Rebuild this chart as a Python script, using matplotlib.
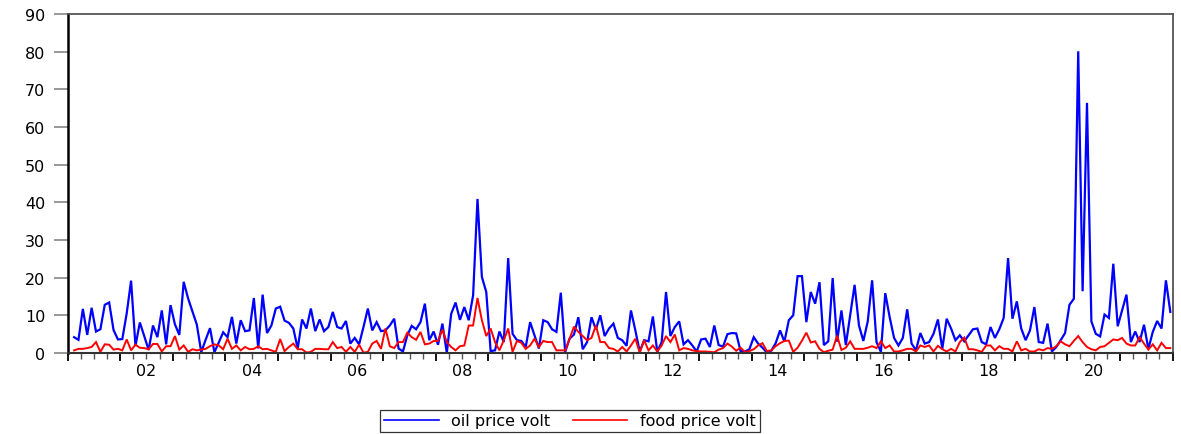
import numpy as np
import matplotlib
matplotlib.use("Agg")
import matplotlib.pyplot as plt
from matplotlib.ticker import FixedLocator, NullFormatter

# Monthly volatility series, 2001M02 .. 2021M12
start_year, start_month = 2001, 2

oil_price_volt = [
    4.2, 3.5, 11.7, 4.8, 12.0, 5.7, 6.3, 12.8, 13.4, 6.1, 3.6, 3.7,
    10.5, 19.2, 1.9, 8.1, 4.5, 0.8, 7.3, 4.2, 11.3, 2.3, 12.7, 7.6,
    4.8, 18.9, 14.5, 11.0, 7.5, 0.2, 3.5, 6.6, 0.2, 2.8, 5.5, 4.2,
    9.6, 2.5, 8.7, 5.8, 6.0, 14.6, 1.2, 15.5, 5.3, 7.3, 11.8, 12.3,
    8.6, 8.0, 6.5, 1.2, 8.9, 6.5, 11.8, 5.8, 8.9, 5.8, 6.9, 10.9,
    6.9, 6.5, 8.5, 2.5, 4.0, 2.3, 6.9, 11.8, 6.0, 8.2, 5.8, 6.0,
    7.3, 9.1, 1.2, 0.4, 4.7, 7.2, 6.3, 8.2, 13.1, 3.4, 5.7, 2.2,
    7.8, 0.0, 10.4, 13.4, 8.8, 12.2, 8.7, 15.3, 40.9, 20.2, 16.2, 0.5,
    0.7, 5.7, 2.9, 25.2, 5.1, 3.4, 3.2, 1.6, 8.2, 4.7, 1.2, 8.7,
    8.2, 6.3, 5.6, 16.0, 0.3, 3.8, 4.9, 9.5, 1.0, 2.9, 9.5, 6.3,
    10.0, 4.5, 6.5, 7.8, 4.0, 3.4, 1.9, 11.3, 6.0, 0.4, 3.4, 3.1,
    9.7, 0.3, 2.9, 16.2, 4.5, 6.9, 8.4, 2.3, 3.4, 2.0, 0.4, 3.6,
    3.8, 1.6, 7.3, 2.1, 1.7, 5.0, 5.3, 5.2, 0.5, 0.4, 1.0, 4.2,
    2.5, 1.4, 0.1, 0.6, 2.6, 6.0, 3.0, 8.7, 10.0, 20.4, 20.4, 8.2,
    16.2, 13.1, 18.8, 2.1, 3.1, 19.9, 3.0, 11.3, 2.1, 10.0, 18.1, 7.3,
    3.2, 8.4, 19.3, 2.9, 0.3, 15.9, 9.5, 4.0, 2.0, 4.0, 11.6, 2.5,
    0.7, 5.3, 2.5, 2.9, 5.1, 8.9, 1.1, 9.1, 6.5, 3.4, 4.7, 3.1,
    4.7, 6.3, 6.5, 2.9, 2.3, 6.9, 4.0, 6.3, 9.3, 25.2, 9.1, 13.7,
    6.5, 3.4, 6.0, 12.2, 2.9, 2.7, 7.8, 0.4, 1.6, 3.4, 5.3, 12.8,
    14.4, 80.1, 16.4, 66.4, 8.4, 5.1, 4.4, 10.2, 9.3, 23.7, 7.1, 11.3,
    15.5, 2.9, 5.7, 2.9, 7.5, 1.1, 5.6, 8.5, 6.5, 19.3, 10.9,
]

food_price_volt = [
    0.7, 1.1, 1.1, 1.3, 1.6, 2.9, 0.3, 2.3, 2.2, 0.9, 1.1, 0.7,
    3.6, 0.7, 2.2, 1.4, 1.3, 1.0, 2.4, 2.4, 0.4, 1.8, 1.8, 4.5,
    0.9, 2.0, 0.3, 1.0, 0.7, 0.9, 1.1, 1.8, 2.3, 2.0, 1.0, 3.8,
    1.1, 2.0, 0.7, 1.6, 1.0, 1.1, 1.8, 1.0, 1.1, 0.7, 0.3, 3.7,
    0.5, 1.6, 2.5, 1.0, 1.0, 0.1, 0.3, 1.1, 1.1, 1.0, 1.0, 2.9,
    1.3, 1.6, 0.3, 1.6, 0.3, 2.2, 0.1, 0.3, 2.5, 3.2, 1.1, 6.5,
    1.8, 1.3, 2.9, 2.9, 5.4, 4.2, 3.5, 5.6, 2.3, 2.5, 3.2, 3.2,
    6.2, 2.9, 1.6, 0.7, 1.8, 2.0, 7.3, 7.3, 14.6, 8.7, 4.5, 6.5,
    2.9, 0.7, 3.4, 6.5, 0.3, 3.2, 2.7, 1.1, 2.0, 3.8, 1.6, 3.2,
    2.9, 2.9, 0.7, 0.7, 0.7, 3.8, 7.0, 5.6, 4.5, 3.4, 4.0, 7.3,
    2.9, 2.9, 1.3, 1.1, 0.4, 1.6, 0.4, 2.0, 3.8, 0.1, 3.4, 0.7,
    2.0, 0.4, 2.0, 4.5, 2.9, 4.9, 0.7, 1.3, 1.1, 0.7, 0.5, 0.4,
    0.4, 0.3, 0.2, 0.9, 1.3, 2.5, 1.7, 0.6, 1.4, 0.3, 0.5, 1.0,
    2.0, 2.6, 0.5, 0.7, 1.8, 2.6, 3.2, 3.3, 0.3, 1.4, 3.3, 5.4,
    2.8, 3.1, 1.1, 0.2, 0.6, 0.9, 4.6, 0.8, 1.4, 3.1, 1.1, 1.1,
    1.1, 1.4, 1.8, 1.3, 3.1, 1.3, 2.0, 0.4, 0.4, 0.7, 1.1, 1.1,
    0.4, 2.0, 1.6, 2.0, 0.4, 1.9, 1.0, 0.4, 1.1, 0.4, 2.9, 4.1,
    1.0, 1.0, 0.7, 0.3, 2.0, 2.0, 0.7, 1.8, 1.1, 1.1, 0.4, 3.1,
    0.7, 1.1, 0.4, 0.4, 1.0, 0.7, 1.3, 1.1, 1.8, 3.1, 2.3, 1.8,
    3.2, 4.5, 2.9, 1.6, 1.0, 0.7, 1.6, 1.8, 2.7, 3.6, 3.4, 4.0,
    2.5, 2.0, 2.0, 4.2, 2.5, 0.9, 2.3, 0.7, 2.7, 1.3, 1.3,
]

year_labels = ["02", "04", "06", "08", "10", "12", "14", "16", "18", "20"]
y_ticks = [0, 10, 20, 30, 40, 50, 60, 70, 80, 90]

# observations sit at the middle of each month
n = len(oil_price_volt)
month_idx = np.arange(n) + (start_month - 1)
t = start_year + (month_idx + 0.5) / 12.0

plt.rcParams["font.family"] = ["DejaVu Sans"]
W, H = 1181, 435
fig = plt.figure(figsize=(W / 100, H / 100), dpi=100)
left, right, top, bottom = 67.5, 1172.5, 15, 354
ax = fig.add_axes([left / W, 1 - bottom / H, (right - left) / W, (bottom - top) / H])

ax.plot(t, oil_price_volt, color="#0000ff", lw=1.6, label="oil price volt", solid_joinstyle="miter")
ax.plot(t, food_price_volt, color="#ff0000", lw=1.4, label="food price volt", solid_joinstyle="miter")

ax.set_xlim(2001, 2022)
ax.set_ylim(0, 90)

# y axis: grey outward ticks
ax.set_yticks(y_ticks)
ax.tick_params(axis="y", direction="out", length=10, width=1.2, color="#888888",
               labelsize=11.5, pad=6, labelcolor="black")

# x axis: yearly major ticks, quarterly minor ticks, labels centred on mid-year
years = np.arange(2001, 2023)
ax.xaxis.set_major_locator(FixedLocator(years))
ax.xaxis.set_major_formatter(NullFormatter())
ax.xaxis.set_minor_locator(FixedLocator(np.arange(2001, 2022.01, 0.25)))
ax.tick_params(axis="x", which="major", direction="out", length=6, width=1.3, color="black")
ax.tick_params(axis="x", which="minor", direction="out", length=4, width=1.0, color="#555555")

sec = ax.secondary_xaxis("bottom")
sec.set_xticks([int("20" + s) + 0.5 for s in year_labels], year_labels)
sec.tick_params(length=0, pad=7, labelsize=11.5)
for s in sec.spines.values():
    s.set_visible(False)

for side in ("top", "right"):
    ax.spines[side].set_color("#555555")
    ax.spines[side].set_linewidth(1.3)
ax.spines["left"].set_color("black")
ax.spines["left"].set_linewidth(1.8)
ax.spines["bottom"].set_color("#333333")
ax.spines["bottom"].set_linewidth(1.5)

leg = fig.legend(loc="center", bbox_to_anchor=(570 / W, 1 - 422 / H), ncol=2,
                 frameon=True, fancybox=False, edgecolor="black", fontsize=11.5,
                 handlelength=3.4, handletextpad=0.8, columnspacing=1.4,
                 borderpad=0.25, borderaxespad=0)
leg.get_frame().set_linewidth(0.9)
for line in leg.get_lines():
    line.set_linewidth(1.2)

fig.savefig("out.png", dpi=100)
